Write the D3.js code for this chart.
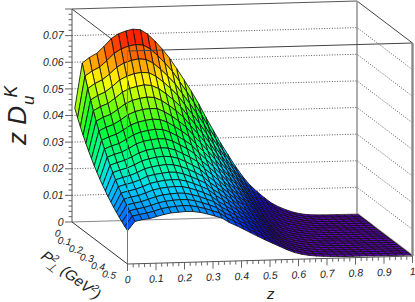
<!DOCTYPE html>
<html>
<head>
<meta charset="utf-8">
<script src="https://cdn.jsdelivr.net/npm/d3@7"></script>
<style>
body { margin: 0; background: #fff; }
text { font-family: "Liberation Sans", sans-serif; font-style: italic; fill: #222; }
</style>
</head>
<body>
<svg id="chart" width="415" height="302"></svg>
<script>
var zValues = [.005,.031,.056,.082,.107,.133,.158,.184,.209,.235,.260,.286,.311,.337,.362,.388,.413,.439,.464,.490,
    .515,.541,.566,.592,.617,.643,.668,.694,.719,.745,.770,.796,.821,.847,.872,.898,.923,.949,.974,1];
var pValues = [.0125,.0375,.0625,.0875,.1125,.1375,.1625,.1875,.2125,.2375,.2625,.2875,.3125,.3375,.3625,.3875,.4125,.4375,.4625,.4875];

// surface height x 10^4, one line per z value, going along pValues
var heights = [
    [431,403,377,353,330,309,289,270,253,236,221,207,193,181,169,158,148,138,129,121],
    [600,559,520,485,452,421,392,365,340,317,295,275,256,238,222,207,193,179,167,155],
    [620,577,538,501,467,435,405,377,351,327,304,284,264,246,229,214,199,185,172,161],
    [635,591,551,513,478,445,415,386,359,335,312,291,271,252,235,219,204,190,177,164],
    [660,614,572,533,497,463,431,401,374,348,324,302,281,262,244,228,212,197,183,171],
    [689,641,597,557,519,483,450,419,390,364,338,316,294,274,255,238,221,206,192,178],
    [706,657,612,570,532,495,461,429,400,373,347,323,301,280,261,244,227,211,196,183],
    [716,667,621,579,539,502,468,435,405,378,352,328,305,284,265,247,230,214,199,185],
    [722,672,626,583,544,506,471,439,409,381,355,331,308,287,267,249,232,216,201,187],
    [719,669,623,581,541,504,470,437,407,380,353,329,306,286,266,248,231,215,200,186],
    [702,654,609,567,529,492,458,427,397,371,345,322,299,279,260,242,225,210,195,182],
    [675,628,585,545,508,473,441,410,382,356,331,309,288,268,250,233,217,202,188,175],
    [645,600,559,521,486,452,421,392,365,341,317,295,275,256,239,223,207,193,179,167],
    [610,568,529,493,459,428,398,371,345,322,300,279,260,242,226,210,196,182,170,158],
    [570,530,492,457,425,395,367,341,317,294,273,254,236,219,204,189,176,163,152,141],
    [527,489,454,421,391,363,337,313,290,270,250,232,216,200,186,172,160,149,138,128],
    [484,449,416,385,357,331,306,284,263,244,226,209,194,180,166,154,143,132,123,114],
    [436,403,373,345,319,295,273,253,234,216,200,185,171,158,146,135,125,116,107,99],
    [385,356,328,303,280,259,239,221,204,188,174,161,148,137,127,117,108,100,92,85],
    [335,309,285,262,242,223,205,189,174,161,148,137,126,116,107,99,91,84,77,71],
    [288,265,243,223,206,189,174,160,147,135,124,114,105,96,88,81,75,69,63,58],
    [243,222,203,186,170,156,142,130,119,109,99,91,83,76,70,64,58,53,49,45],
    [200,182,165,150,136,123,112,102,92,84,76,69,63,57,52,47,43,39,35,32],
    [160,144,129,116,104,94,84,76,68,61,55,49,44,40,36,32,29,26,23,21],
    [127,113,101,90,80,71,63,56,50,45,40,36,32,28,25,22,20,18,16,14],
    [100,88,78,68,60,53,47,41,36,32,28,25,22,19,17,15,13,12,10,9],
    [77,67,59,51,45,39,34,30,26,23,20,18,16,14,12,10,9,8,7,6],
    [55,48,42,36,32,28,24,21,18,16,14,12,10,9,8,7,6,5,5,4],
    [40,35,30,27,23,20,18,15,13,12,10,9,8,7,6,5,4,4,3,3],
    [28,24,21,19,16,14,12,11,9,8,7,6,5,5,4,4,3,3,2,2],
    [18,16,14,12,11,9,8,7,6,5,5,4,4,3,3,3,2,2,2,1],
    [11,10,9,8,7,6,5,5,4,4,3,3,3,2,2,2,2,1,1,1],
    [7,6,6,5,5,4,4,3,3,3,2,2,2,2,1,1,1,1,1,1],
    [5,5,4,4,3,3,3,2,2,2,2,2,1,1,1,1,1,1,1,1],
    [4,4,3,3,3,2,2,2,2,2,1,1,1,1,1,1,1,1,1,0],
    [3,3,3,2,2,2,2,2,1,1,1,1,1,1,1,1,1,0,0,0],
    [3,3,2,2,2,2,1,1,1,1,1,1,1,1,1,0,0,0,0,0],
    [2,2,2,2,1,1,1,1,1,1,1,1,0,0,0,0,0,0,0,0],
    [2,2,1,1,1,1,1,1,0,0,0,0,0,0,0,0,0,0,0,0],
    [1,1,1,1,1,1,0,0,0,0,0,0,0,0,0,0,0,0,0,0]
];

var heightTicks = [0, .01, .02, .03, .04, .05, .06, .07];
var heightLabels = ["0", "0.01", "0.02", "0.03", "0.04", "0.05", "0.06", "0.07"];
var zTicks = [0, .1, .2, .3, .4, .5, .6, .7, .8, .9, 1];
var zLabels = ["0", "0.1", "0.2", "0.3", "0.4", "0.5", "0.6", "0.7", "0.8", "0.9", "1"];
var pTicks = [0, .1, .2, .3, .4, .5];
var pLabels = ["0", "0.1", "0.2", "0.3", "0.4", "0.5"];

var svg = d3.select("#chart");

// oblique projection, each data axis moves the point along its own screen direction
var xFromZ = d3.scaleLinear().domain([0, 1]).range([72, 357]);
var yFromZ = d3.scaleLinear().domain([0, 1]).range([0, -8]);
var xFromP = d3.scaleLinear().domain([0, .5]).range([0, 55.5]);
var yFromP = d3.scaleLinear().domain([0, .5]).range([0, 42]);
var yFromH = d3.scaleLinear().domain([0, .08]).range([222, 9]);

function project(z, p, h) {
    return [xFromZ(z) + xFromP(p), yFromH(h) + yFromZ(z) + yFromP(p)];
}

function line(a, b) {
    return "M" + a[0] + " " + a[1] + "L" + b[0] + " " + b[1];
}

var color = d3.scaleLinear()
    .domain([0, .002, .005, .008, .012, .016, .02, .024, .03, .04, .05, .055, .06, .065, .072])
    .range(["#6400c0", "#5200c0", "#3000c8", "#1808d8", "#0030f0", "#0070ff", "#00a8ff", "#00d0ff", "#00ffa0", "#00ff30", "#a0ff00", "#ffff00", "#ffb000", "#ff6000", "#ff0000"])
    .clamp(true);

function edge(a, b, stroke, width) {
    svg.append("path")
        .attr("d", line(a, b))
        .attr("fill", "none")
        .attr("stroke", stroke)
        .attr("stroke-width", width);
}

// back walls
var top_ = .08;
edge(project(0, 0, top_), project(1, 0, top_), "#555", 1);
edge(project(0, 0, top_), project(0, .5, top_), "#444", 1);
edge(project(1, 0, top_), project(1, .5, top_), "#444", 1);
edge(project(1, 0, 0), project(1, 0, top_), "#999", 1.6);
edge(project(0, 0, 0), project(1, 0, 0), "#888", 1);
edge(project(1, 0, 0), project(1, .5, 0), "#999", 2.4);
edge(project(1, 0, 0), project(1, .5, 0), "#333", .6);

// dotted grid on the two back walls
svg.append("g").selectAll("path")
    .data(heightTicks.slice(1))
    .join("path")
    .attr("d", function (d) {
        return "M" + project(0, 0, d).join(" ") + "L" + project(1, 0, d).join(" ") + "L" + project(1, .5, d).join(" ");
    })
    .attr("fill", "none")
    .attr("stroke", "#444")
    .attr("stroke-width", .9)
    .attr("stroke-dasharray", "1 1.6");

// cells back to front, high z first, so the nearer ones paint over
var cells = [];
for (var j = 0; j < pValues.length - 1; j++) {
    for (var i = zValues.length - 2; i >= 0; i--) {
        cells.push({ i: i, j: j });
    }
}

function corner(i, j) {
    return project(zValues[i], pValues[j], heights[i][j] * 1e-4);
}

svg.append("g").selectAll("path")
    .data(cells)
    .join("path")
    .attr("d", function (d) {
        return "M" + [corner(d.i, d.j), corner(d.i + 1, d.j), corner(d.i + 1, d.j + 1), corner(d.i, d.j + 1)].join("L") + "Z";
    })
    .attr("fill", function (d) {
        var mean = (heights[d.i][d.j] + heights[d.i + 1][d.j] + heights[d.i + 1][d.j + 1] + heights[d.i][d.j + 1]) / 4;
        return color(mean * 1e-4);
    })
    .attr("stroke", "#111")
    .attr("stroke-width", .85)
    .attr("stroke-linejoin", "round");

// front edges, they show through the surface
edge(project(0, .5, top_), project(1, .5, top_), "#444", 1);
edge(project(0, .5, 0), project(0, .5, top_), "#777", 1);
edge(project(1, .5, 0), project(1, .5, top_), "#888", 2.4);
edge(project(0, 0, 0), project(0, .5, 0), "#333", 1);
edge(project(0, .5, 0), project(1, .5, 0), "#555", 1);
edge(project(0, 0, 0), project(0, 0, top_), "#555", 1);

// height axis
var heightAxis = svg.append("g");
heightAxis.selectAll("path")
    .data(yFromH.ticks(40))
    .join("path")
    .attr("d", function (d) {
        var major = Math.abs(d * 100 - Math.round(d * 100)) < 1e-6;
        return "M72 " + yFromH(d) + "H" + (major ? 65 : 68.5);
    })
    .attr("stroke", "#555")
    .attr("stroke-width", .9);
heightAxis.selectAll("text")
    .data(heightTicks)
    .join("text")
    .attr("x", 63.5)
    .attr("y", function (d) { return yFromH(d) + 3.7; })
    .attr("text-anchor", "end")
    .attr("font-size", 10.5)
    .text(function (d, i) { return heightLabels[i]; });

// z axis
var zAxis = svg.append("g");
zAxis.selectAll("path")
    .data(xFromZ.ticks(50))
    .join("path")
    .attr("d", function (d) {
        var p = project(d, .5, 0);
        var major = Math.abs(d * 10 - Math.round(d * 10)) < 1e-6;
        return "M" + p[0] + " " + p[1] + "v" + (major ? 7 : 3.6);
    })
    .attr("stroke", "#555")
    .attr("stroke-width", .9);
zAxis.selectAll("text")
    .data(zTicks)
    .join("text")
    .attr("transform", function (d) {
        var p = project(d, .5, 0);
        return "translate(" + (p[0] + .5) + "," + (p[1] + 19) + ") rotate(-4)";
    })
    .attr("text-anchor", "middle")
    .attr("font-size", 10.5)
    .text(function (d, i) { return zLabels[i]; });

// P axis labels
svg.append("g").selectAll("text")
    .data(pTicks)
    .join("text")
    .attr("transform", function (d) {
        var p = project(0, d, 0);
        return "translate(" + (p[0] - 12) + "," + (p[1] + 15) + ") rotate(8)";
    })
    .attr("text-anchor", "end")
    .attr("font-size", 10)
    .text(function (d, i) { return pLabels[i]; });

// titles
svg.append("text").attr("x", 267).attr("y", 299).attr("font-size", 15).text("z");

var yTitle = svg.append("text")
    .attr("transform", "translate(26,145) rotate(-90)")
    .attr("font-size", 26);
yTitle.append("tspan").text("z D");
yTitle.append("tspan").attr("font-size", 17).attr("dy", 8).attr("dx", 1).text("u");
yTitle.append("tspan").attr("font-size", 17.5).attr("dy", -17.5).attr("dx", -2).text("K");

var pTitle = svg.append("text")
    .attr("transform", "translate(40,258) rotate(37)")
    .attr("font-size", 15);
pTitle.append("tspan").text("P");
pTitle.append("tspan").attr("font-size", 10).attr("dy", -6).text("2");
pTitle.append("tspan").attr("font-size", 12).attr("dy", 10).attr("dx", -6).text("⊥");
pTitle.append("tspan").attr("dy", -4).attr("dx", 5).text("(GeV");
pTitle.append("tspan").attr("font-size", 10).attr("dy", -6).text("2");
pTitle.append("tspan").attr("dy", 6).text(")");
</script>
</body>
</html>
